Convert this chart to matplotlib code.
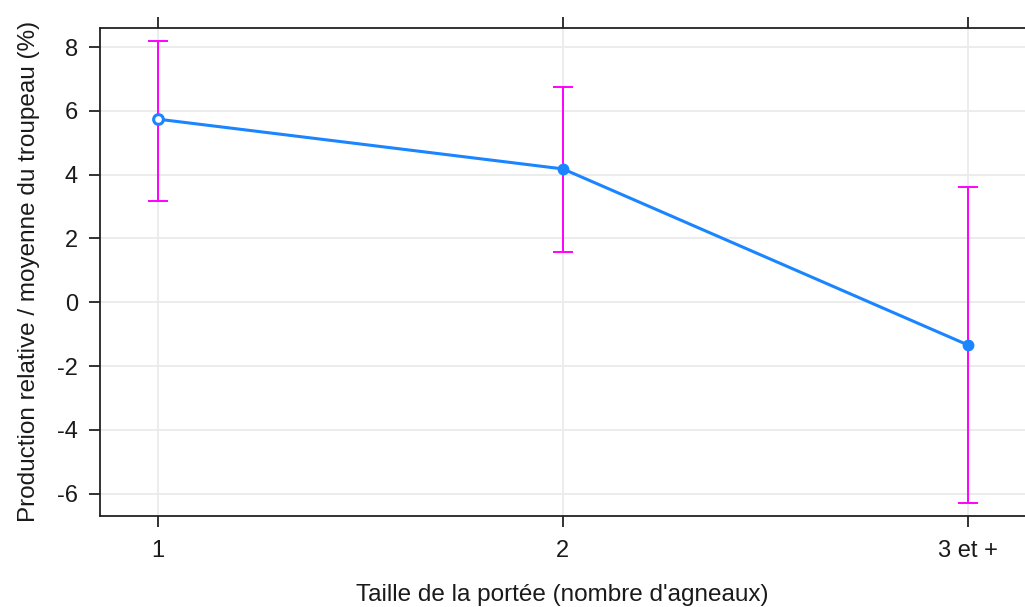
import matplotlib
matplotlib.use("Agg")
import matplotlib.pyplot as plt

categories = ["1", "2", "3 et +"]
means = [5.74, 4.18, -1.34]
upper = [8.19, 6.76, 3.61]
lower = [3.17, 1.57, -6.29]

plt.rcParams['font.family'] = ['Liberation Sans', 'DejaVu Sans']
plt.rcParams['axes.unicode_minus'] = False

x = list(range(1, len(categories) + 1))
err_lo = [m - l for m, l in zip(means, lower)]
err_hi = [u - m for m, u in zip(means, upper)]

fig = plt.figure(figsize=(10.25, 6.07), dpi=100)
ax = fig.add_axes([0.0976, 0.150, 0.9024, 0.804])

ax.grid(True, color='#ebebeb', linewidth=1.3, zorder=0)
ax.set_axisbelow(True)

ax.errorbar(x, means, yerr=[err_lo, err_hi], fmt='none', ecolor='#ff00ff',
            elinewidth=1.4, capsize=7.5, capthick=1.4, zorder=2)
ax.plot(x, means, color='#1a85ff', linewidth=2.2, zorder=3)
# first point hollow, others filled
ax.plot(x[:1], means[:1], 'o', markersize=7, markerfacecolor='white',
        markeredgecolor='#1a85ff', markeredgewidth=2.2, zorder=4)
ax.plot(x[1:], means[1:], 'o', markersize=7.5, color='#1a85ff', zorder=4)

ax.set_xlim(0.857, 3.141)
ax.set_ylim(-6.7, 8.6)
ax.set_xticks(x)
ax.set_xticklabels(categories)
ax.set_yticks([-6, -4, -2, 0, 2, 4, 6, 8])

ax.spines['right'].set_visible(False)
for s in ['left', 'bottom', 'top']:
    ax.spines[s].set_linewidth(1.3)
    ax.spines[s].set_color('#222222')

ax.tick_params(axis='both', direction='out', length=8, width=1.3,
               color='#222222', labelsize=17, labelcolor='#1a1a1a')
ax.tick_params(axis='x', top=True, labeltop=False, pad=9)
ax.tick_params(axis='y', pad=8)

ax.set_xlabel("Taille de la portée (nombre d'agneaux)", fontsize=17.5,
              color='#1a1a1a', labelpad=16)
ax.set_ylabel("Production relative / moyenne du troupeau (%)", fontsize=17.5,
              color='#1a1a1a', labelpad=12)

fig.savefig("out.png", dpi=100)
